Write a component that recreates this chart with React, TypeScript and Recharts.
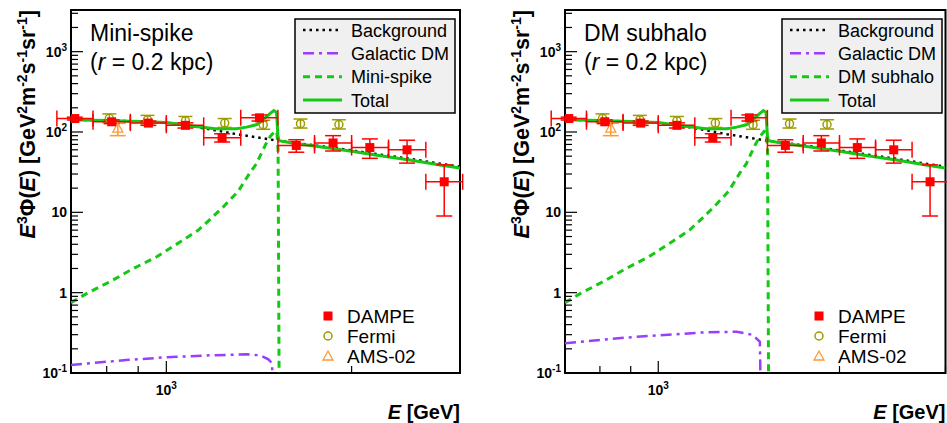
import React from 'react'
import { ComposedChart, Line, Scatter, XAxis, YAxis, ErrorBar, ReferenceArea, Legend, Label } from 'recharts'

const FONT = '"Liberation Sans", Arial, Helvetica, sans-serif'
const H = 423
const PLOT_TOP = 10
const PLOT_BOTTOM = 373

const RED = '#ff0000'
const OLIVE = '#9c9c00'
const ORANGE = '#ff9933'
const GREEN = '#14c814'
const PURPLE = '#9a3dff'
const BG_DASH = '2.5 4'
const DM_DASH = '11 5 3 5'
const SPIKE_DASH = '7 5'

// axes
const xDomain = [700, 3000]
const yDomain = [0.1, 3300]
const xMajorTicks = [1000]
const xMinorTicks = [800, 900, 2000, 3000]
const yMajorTicks = [0.1, 1, 10, 100, 1000]
const yMajorBase = ['10', '1', '10', '10', '10']
const yMajorExp = ['-1', '', '', '2', '3']
const yMinorTicks = [
  0.2, 0.3, 0.4, 0.5, 0.6, 0.7, 0.8, 0.9,
  2, 3, 4, 5, 6, 7, 8, 9,
  20, 30, 40, 50, 60, 70, 80, 90,
  200, 300, 400, 500, 600, 700, 800, 900,
  2000, 3000,
]

// background
const bgEnergy = [700, 800, 900, 1000, 1100, 1200, 1300, 1400, 1500, 1600, 1800, 2000, 2200, 2500, 2800, 3000]
const bgFlux = [142, 139, 135, 131, 118, 105, 94, 86, 79, 74, 66, 59, 53, 46, 40, 37]

// mini-spike / subhalo contribution
const spikeEnergy = [700, 743, 810, 884, 965, 1054, 1127, 1192, 1232, 1308, 1366, 1400, 1428, 1450, 1475, 1500, 1512, 1519, 1526]
const spikeFlux = [0.75, 0.98, 1.37, 2.0, 2.8, 4.3, 6.0, 8.9, 11.3, 18.2, 30.8, 40, 55, 70, 88, 102, 100, 60, 0.02]

// total
const totalEnergy = [700, 800, 900, 1000, 1100, 1200, 1300, 1350, 1400, 1430, 1450, 1475, 1495, 1510, 1518, 1524, 1600, 1800, 2000, 2200, 2500, 2800, 3000]
const totalFlux = [142, 139, 135, 131, 119, 110, 110, 115, 123, 137, 152, 170, 185, 176, 90, 78, 73, 64.5, 57.5, 51.5, 44.5, 38.5, 35.5]

// galactic DM, one per panel
const gdmSpikeEnergy = [700, 860, 1000, 1180, 1350, 1420, 1465, 1485, 1490]
const gdmSpikeFlux = [0.126, 0.145, 0.157, 0.166, 0.171, 0.166, 0.148, 0.132, 0.05]
const gdmSubhaloEnergy = [700, 920, 1190, 1350, 1435, 1475, 1480]
const gdmSubhaloFlux = [0.235, 0.283, 0.32, 0.326, 0.298, 0.245, 0.05]

// DAMPE
const dampeEnergy = [710, 815, 935, 1074, 1232, 1417, 1626, 1866, 2141, 2461, 2828]
const dampeFlux = [147, 134, 129, 121, 85, 150, 68, 73, 64, 60, 24]
const dampeErrUp = [6, 7, 8, 9, 10, 13, 12, 17, 18, 19, 15]
const dampeErrDown = [6, 7, 8, 9, 10, 13, 12, 15, 17, 19, 15]
const dampeBinLo = [664, 760, 874, 1000, 1150, 1321, 1518, 1741, 2000, 2296, 2640]
const dampeBinHi = [760, 874, 1000, 1150, 1321, 1518, 1741, 2000, 2296, 2640, 3030]

// Fermi
const fermiEnergy = [808, 932, 1074, 1244, 1437, 1652, 1907]
const fermiFlux = [148, 142, 138, 129, 123, 127, 124]
const fermiErrUp = [20, 19, 18, 18, 17, 18, 18]
const fermiErrDown = [17, 16, 16, 15, 15, 15, 15]

// AMS-02
const amsEnergy = [834]
const amsFlux = [112]
const amsErrUp = [16]
const amsErrDown = [22]

const series = (xs: number[], ys: number[]) => xs.map((x, i) => ({ x, y: ys[i] }))

const bgData = series(bgEnergy, bgFlux)
const spikeData = series(spikeEnergy, spikeFlux)
const totalData = series(totalEnergy, totalFlux)

const dampeData = dampeEnergy.map((e, i) => ({
  x: e,
  y: dampeFlux[i],
  ex: [e - dampeBinLo[i], dampeBinHi[i] - e],
  ey: [dampeErrDown[i], dampeErrUp[i]],
}))
const fermiData = fermiEnergy.map((e, i) => ({ x: e, y: fermiFlux[i], ey: [fermiErrDown[i], fermiErrUp[i]] }))
const amsData = amsEnergy.map((e, i) => ({ x: e, y: amsFlux[i], ey: [amsErrDown[i], amsErrUp[i]] }))

const SquareDot = (p: any) => <rect x={p.cx - 4.5} y={p.cy - 4.5} width={9} height={9} fill={RED} />
const CircleDot = (p: any) => <circle cx={p.cx} cy={p.cy} r={4} fill="none" stroke={OLIVE} strokeWidth={1.5} />
const TriangleDot = (p: any) => (
  <path d={`M${p.cx},${p.cy - 5} L${p.cx + 5},${p.cy + 4} L${p.cx - 5},${p.cy + 4} Z`} fill="none" stroke={ORANGE} strokeWidth={1.3} />
)

function YTick({ y, payload, axisX }: any) {
  const i = yMajorTicks.indexOf(payload.value)
  const len = i >= 0 ? 12 : 7
  return (
    <g>
      <line x1={axisX} x2={axisX + len} y1={y} y2={y} stroke="#000" strokeWidth={1.2} />
      {i >= 0 && (
        <text x={axisX - 4} y={y} dy={5} textAnchor="end" fontFamily={FONT} fontWeight="bold" fontSize={14} fill="#000">
          {yMajorBase[i]}
          {yMajorExp[i] && <tspan dy={-6} fontSize={10}>{yMajorExp[i]}</tspan>}
        </text>
      )}
    </g>
  )
}

function XTick({ x, payload }: any) {
  const major = xMajorTicks.includes(payload.value)
  const len = major ? 12 : 7
  return (
    <g>
      <line x1={x} x2={x} y1={PLOT_BOTTOM} y2={PLOT_BOTTOM - len} stroke="#000" strokeWidth={1.2} />
      {major && (
        <text x={x} y={395} textAnchor="middle" fontFamily={FONT} fontWeight="bold" fontSize={14} fill="#000">
          10<tspan dy={-6} fontSize={10}>3</tspan>
        </text>
      )}
    </g>
  )
}

function YTitle({ x }: { x: number }) {
  const up = -8
  const sup = 14
  return (
    <text transform={`translate(${x},${PLOT_TOP}) rotate(-90)`} textAnchor="end" fontFamily={FONT} fontWeight="bold" fontSize={21.5} fill="#000">
      <tspan fontStyle="italic">E</tspan>
      <tspan dy={up} fontSize={sup}>3</tspan>
      <tspan dy={-up}>Φ(</tspan>
      <tspan fontStyle="italic">E</tspan>
      <tspan>) [GeV</tspan>
      <tspan dy={up} fontSize={sup}>2</tspan>
      <tspan dy={-up}>m</tspan>
      <tspan dy={up} fontSize={sup}>-2</tspan>
      <tspan dy={-up}>s</tspan>
      <tspan dy={up} fontSize={sup}>-1</tspan>
      <tspan dy={-up}>sr</tspan>
      <tspan dy={up} fontSize={sup}>-1</tspan>
      <tspan dy={-up}>]</tspan>
    </text>
  )
}

function Overlay({ cfg }: any) {
  const rows = [
    { name: 'Background', stroke: '#000', dash: BG_DASH, sw: 2.5 },
    { name: 'Galactic DM', stroke: PURPLE, dash: DM_DASH, sw: 2.5 },
    { name: cfg.modelName, stroke: GREEN, dash: SPIKE_DASH, sw: 3 },
    { name: 'Total', stroke: GREEN, dash: undefined, sw: 3 },
  ]
  const rowY = [30, 53.3, 76.7, 100]
  const markers = [
    { name: 'DAMPE', y: 316, Shape: SquareDot },
    { name: 'Fermi', y: 336, Shape: CircleDot },
    { name: 'AMS-02', y: 356, Shape: TriangleDot },
  ]
  const tx = cfg.plotLeft + 19
  return (
    <svg width={cfg.width} height={H} style={{ display: 'block' }} fontFamily={FONT}>
      <text x={tx} y={41} fontSize={23} fill="#000">{cfg.title}</text>
      <text x={tx} y={70} fontSize={23} fill="#000">
        (<tspan fontStyle="italic">r</tspan> = 0.2 kpc)
      </text>
      <rect x={cfg.boxX} y={19} width={160} height={94} fill="#f0f0f0" stroke="#000" strokeWidth={1.5} />
      {rows.map((r, i) => (
        <g key={r.name}>
          <line x1={cfg.boxX + 8} x2={cfg.boxX + 47} y1={rowY[i]} y2={rowY[i]} stroke={r.stroke} strokeWidth={r.sw} strokeDasharray={r.dash} />
          <text x={cfg.boxX + 56} y={rowY[i] + 6.5} fontSize={18} fill="#000">{r.name}</text>
        </g>
      ))}
      {markers.map(({ name, y, Shape }) => (
        <g key={name}>
          <Shape cx={cfg.markerX} cy={y} />
          <text x={cfg.markerX + 19} y={y + 7} fontSize={19} fill="#000">{name}</text>
        </g>
      ))}
    </svg>
  )
}

function Panel({ cfg }: any) {
  const dmData = series(cfg.dmEnergy, cfg.dmFlux)
  return (
    <div style={{ position: 'absolute', left: cfg.left, top: 0 }}>
      <ComposedChart
        width={cfg.width}
        height={H}
        margin={{ top: PLOT_TOP, right: cfg.width - cfg.plotRight, bottom: 0, left: cfg.plotLeft - 60 }}
      >
        <XAxis
          type="number"
          dataKey="x"
          scale="log"
          domain={xDomain}
          allowDataOverflow
          ticks={[...xMinorTicks, ...xMajorTicks]}
          interval={0}
          height={H - PLOT_BOTTOM}
          axisLine={false}
          tickLine={false}
          tick={(p: any) => <XTick {...p} />}
        >
          <Label
            content={() => (
              <text x={cfg.plotRight} y={419} textAnchor="end" fontFamily={FONT} fontWeight="bold" fontSize={20} fill="#000">
                <tspan fontStyle="italic">E</tspan> [GeV]
              </text>
            )}
          />
        </XAxis>
        <YAxis
          type="number"
          dataKey="y"
          scale="log"
          domain={yDomain}
          allowDataOverflow
          ticks={[...yMinorTicks, ...yMajorTicks]}
          interval={0}
          width={60}
          axisLine={false}
          tickLine={false}
          tick={(p: any) => <YTick {...p} axisX={cfg.plotLeft} />}
        >
          <Label content={() => <YTitle x={cfg.plotLeft - 36} />} />
        </YAxis>
        <ReferenceArea x1={xDomain[0]} x2={xDomain[1]} y1={yDomain[0]} y2={yDomain[1]} fill="none" stroke="#000" strokeWidth={2} />
        <Line data={bgData} dataKey="y" type="linear" stroke="#000" strokeWidth={2.5} strokeDasharray={BG_DASH} dot={false} activeDot={false} isAnimationActive={false} />
        <Line data={dmData} dataKey="y" type="linear" stroke={PURPLE} strokeWidth={2.5} strokeDasharray={DM_DASH} dot={false} activeDot={false} isAnimationActive={false} />
        <Line data={spikeData} dataKey="y" type="linear" stroke={GREEN} strokeWidth={3} strokeDasharray={SPIKE_DASH} dot={false} activeDot={false} isAnimationActive={false} />
        <Line data={totalData} dataKey="y" type="linear" stroke={GREEN} strokeWidth={3} dot={false} activeDot={false} isAnimationActive={false} />
        <Scatter data={fermiData} dataKey="y" shape={CircleDot} isAnimationActive={false}>
          <ErrorBar dataKey="ey" direction="y" width={7} stroke={OLIVE} strokeWidth={1.5} />
        </Scatter>
        <Scatter data={amsData} dataKey="y" shape={TriangleDot} isAnimationActive={false}>
          <ErrorBar dataKey="ey" direction="y" width={8} stroke={ORANGE} strokeWidth={1.5} />
        </Scatter>
        <Scatter data={dampeData} dataKey="y" shape={SquareDot} isAnimationActive={false}>
          <ErrorBar dataKey="ex" direction="x" width={8} stroke={RED} strokeWidth={1.5} />
          <ErrorBar dataKey="ey" direction="y" width={8} stroke={RED} strokeWidth={1.5} />
        </Scatter>
        <Legend
          layout="horizontal"
          verticalAlign="middle"
          align="center"
          wrapperStyle={{ left: 0, top: 0, width: cfg.width, height: H, pointerEvents: 'none' }}
          content={() => <Overlay cfg={cfg} />}
        />
      </ComposedChart>
    </div>
  )
}

const spikePanel = {
  left: 0, width: 470, plotLeft: 71, plotRight: 460, boxX: 295, markerX: 328,
  title: 'Mini-spike', modelName: 'Mini-spike', dmEnergy: gdmSpikeEnergy, dmFlux: gdmSpikeFlux,
}
const subhaloPanel = {
  left: 470, width: 477, plotLeft: 95, plotRight: 475.5, boxX: 312, markerX: 349,
  title: 'DM subhalo', modelName: 'DM subhalo', dmEnergy: gdmSubhaloEnergy, dmFlux: gdmSubhaloFlux,
}

export default function App() {
  return (
    <div style={{ position: 'absolute', left: 0, top: 0, width: 947, height: H, background: '#fff' }}>
      <Panel cfg={spikePanel} />
      <Panel cfg={subhaloPanel} />
    </div>
  )
}
